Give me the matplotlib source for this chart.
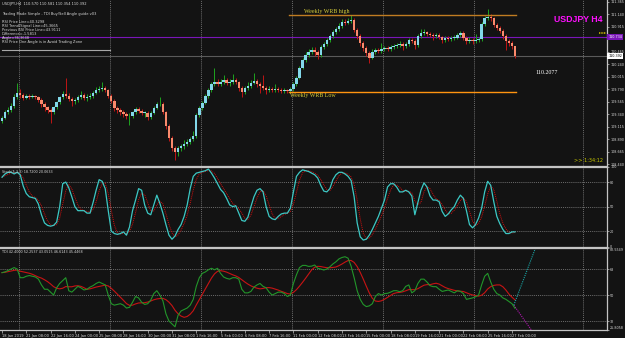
import numpy as np
import pandas as pd
import matplotlib
matplotlib.use("Agg")
import matplotlib.pyplot as plt

# ---- data (USDJPY H4, 18 Jan - 27 Feb 2019) ----
first_open = 109.22
closes = [109.28, 109.38, 109.42, 109.49, 109.65, 109.73, 109.69, 109.64, 109.67, 109.65,
          109.67, 109.65, 109.60, 109.53, 109.47, 109.42, 109.38, 109.47, 109.56, 109.65,
          109.71, 109.67, 109.62, 109.58, 109.60, 109.65, 109.69, 109.64, 109.65, 109.67,
          109.73, 109.78, 109.80, 109.82, 109.78, 109.67, 109.58, 109.46, 109.42, 109.38,
          109.35, 109.31, 109.31, 109.38, 109.44, 109.40, 109.37, 109.37, 109.29, 109.37,
          109.46, 109.53, 109.53, 109.38, 109.13, 108.92, 108.74, 108.66, 108.74, 108.77,
          108.81, 108.84, 108.90, 108.95, 109.33, 109.46, 109.55, 109.67, 109.78, 109.89,
          109.92, 109.89, 109.92, 109.96, 109.91, 109.92, 109.96, 109.92, 109.82, 109.74,
          109.82, 109.85, 109.91, 109.94, 109.89, 109.85, 109.82, 109.78, 109.80, 109.78,
          109.80, 109.78, 109.76, 109.78, 109.76, 109.80, 109.89, 110.00, 110.18, 110.32,
          110.41, 110.46, 110.50, 110.46, 110.41, 110.55, 110.61, 110.68, 110.75, 110.82,
          110.88, 110.93, 111.00, 110.99, 111.02, 111.04, 110.86, 110.75, 110.63, 110.54,
          110.45, 110.36, 110.46, 110.50, 110.48, 110.52, 110.54, 110.52, 110.55, 110.57,
          110.59, 110.61, 110.57, 110.61, 110.68, 110.66, 110.59, 110.75, 110.81, 110.82,
          110.79, 110.77, 110.75, 110.77, 110.73, 110.68, 110.72, 110.70, 110.72, 110.72,
          110.77, 110.81, 110.72, 110.66, 110.68, 110.66, 110.68, 110.70, 110.97, 111.08,
          111.09, 111.08, 110.95, 110.90, 110.84, 110.75, 110.66, 110.63, 110.57, 110.39]
highs = [109.32, 109.42, 109.48, 109.55, 109.70, 109.91, 109.80, 109.72, 109.70, 109.70,
         109.71, 109.69, 109.68, 109.63, 109.56, 109.50, 109.45, 109.50, 109.59, 109.68,
         109.76, 110.00, 109.72, 109.65, 109.64, 109.69, 109.76, 109.72, 109.70, 109.72,
         109.77, 109.83, 109.86, 109.92, 109.85, 109.80, 109.70, 109.61, 109.50, 109.45,
         109.42, 109.38, 109.36, 109.41, 109.48, 109.47, 109.43, 109.41, 109.40, 109.40,
         109.49, 109.57, 109.65, 109.56, 109.40, 109.16, 108.95, 108.77, 108.78, 108.81,
         108.88, 108.90, 108.94, 109.05, 109.36, 109.50, 109.58, 109.71, 109.82, 109.93,
         110.18, 109.98, 109.97, 110.05, 110.00, 109.98, 110.07, 110.00, 109.95, 109.85,
         109.86, 109.92, 109.96, 110.08, 109.97, 109.92, 110.05, 109.85, 109.86, 109.83,
         109.88, 109.84, 109.81, 109.82, 109.80, 109.84, 109.93, 110.04, 110.22, 110.36,
         110.46, 110.52, 110.56, 110.55, 110.50, 110.59, 110.65, 110.72, 110.79, 110.86,
         110.92, 110.98, 111.05, 111.06, 111.07, 111.13, 111.08, 110.89, 110.78, 110.66,
         110.57, 110.48, 110.52, 110.54, 110.53, 110.63, 110.58, 110.57, 110.59, 110.61,
         110.63, 110.66, 110.64, 110.65, 110.72, 110.72, 110.69, 110.79, 110.88, 110.87,
         110.85, 110.82, 110.80, 110.81, 110.80, 110.76, 110.76, 110.75, 110.76, 110.77,
         110.81, 110.85, 110.84, 110.75, 110.73, 110.72, 110.79, 110.74, 111.00, 111.12,
         111.23, 111.14, 111.10, 110.98, 110.93, 110.88, 110.79, 110.70, 110.66, 110.58]
lows = [109.18, 109.25, 109.34, 109.39, 109.46, 109.62, 109.64, 109.60, 109.61, 109.62,
        109.63, 109.61, 109.57, 109.48, 109.40, 109.36, 109.19, 109.34, 109.44, 109.53,
        109.62, 109.63, 109.58, 109.50, 109.53, 109.57, 109.62, 109.60, 109.58, 109.62,
        109.64, 109.70, 109.74, 109.77, 109.74, 109.63, 109.54, 109.41, 109.37, 109.33,
        109.30, 109.25, 109.15, 109.28, 109.35, 109.36, 109.33, 109.30, 109.24, 109.26,
        109.34, 109.43, 109.49, 109.34, 109.08, 108.86, 108.69, 108.52, 108.60, 108.68,
        108.72, 108.77, 108.80, 108.86, 108.92, 109.29, 109.42, 109.52, 109.64, 109.75,
        109.86, 109.85, 109.86, 109.89, 109.87, 109.86, 109.89, 109.88, 109.76, 109.66,
        109.70, 109.78, 109.82, 109.88, 109.84, 109.72, 109.78, 109.70, 109.75, 109.74,
        109.75, 109.74, 109.72, 109.72, 109.72, 109.73, 109.77, 109.86, 109.97, 110.15,
        110.28, 110.38, 110.43, 110.40, 110.34, 110.38, 110.52, 110.58, 110.65, 110.72,
        110.79, 110.85, 110.90, 110.95, 110.96, 110.99, 110.82, 110.70, 110.58, 110.48,
        110.40, 110.27, 110.33, 110.43, 110.44, 110.45, 110.49, 110.48, 110.49, 110.52,
        110.54, 110.56, 110.50, 110.54, 110.58, 110.62, 110.52, 110.56, 110.72, 110.77,
        110.75, 110.73, 110.68, 110.72, 110.69, 110.62, 110.65, 110.66, 110.67, 110.68,
        110.69, 110.74, 110.68, 110.61, 110.62, 110.60, 110.63, 110.64, 110.67, 110.94,
        111.04, 111.03, 110.91, 110.86, 110.80, 110.70, 110.50, 110.58, 110.52, 110.35]

stoch_k = [86, 90, 92, 92, 90, 92, 89, 75, 66, 62, 61, 60, 53, 40, 30, 27, 26, 27, 31, 50,
           78, 80, 73, 62, 50, 45, 45, 45, 42, 42, 55, 70, 83, 81, 72, 45, 20, 17, 16, 17,
           19, 15, 25, 45, 58, 72, 70, 52, 42, 40, 52, 64, 54, 42, 28, 15, 10, 14, 22, 28,
           38, 52, 72, 87, 91, 92, 93, 94, 96, 91, 85, 78, 71, 67, 60, 52, 50, 51, 42, 33,
           32, 37, 50, 62, 70, 72, 68, 50, 38, 35, 34, 38, 41, 42, 42, 48, 68, 87, 92, 95,
           94, 93, 91, 89, 85, 76, 69, 68, 72, 83, 89, 92, 92, 90, 87, 82, 62, 30, 13, 9,
           10, 15, 22, 30, 38, 48, 58, 74, 78, 78, 74, 68, 68, 70, 68, 63, 40, 55, 70, 79,
           74, 63, 58, 58, 56, 44, 38, 41, 46, 50, 58, 64, 60, 45, 28, 24, 28, 36, 48, 68,
           81, 76, 56, 38, 29, 22, 17, 17, 19, 19]

tdi_green = [65.5, 66, 67, 68, 69, 68, 62, 62, 63, 63.5, 63, 62.5, 61, 57, 54, 54, 52, 50, 55, 58,
             60, 62, 53, 52, 54, 56, 55, 53.5, 54, 55.5, 56.5, 58, 59, 58, 57, 50, 44, 43, 43.5, 44,
             43, 41, 41.5, 45, 49, 48, 45, 43.5, 44, 46.5, 51, 53, 50, 46, 37, 32, 30, 28, 36, 39,
             40, 41, 43, 47, 56, 62, 65, 66, 67.5, 68.5, 67.5, 68.5, 65, 62.5, 61.5, 61, 62, 62, 61, 54,
             51.5, 51.5, 52.5, 55.5, 57, 58, 56, 55, 52, 50, 51, 52, 52, 51, 49, 50, 58, 64, 69, 70.5,
             70.5, 69.8, 70, 70.8, 68.5, 68, 67.3, 68, 69.5, 71.5, 73, 75, 76, 76.5, 75.5, 70, 62, 53, 47, 43.5,
             42, 42.5, 44, 49, 51, 50, 51, 51.2, 52, 53, 53, 52.3, 53, 56, 57, 51.5, 53, 58, 61, 61,
             59, 56.5, 55.8, 55.8, 54, 52.5, 53, 53.5, 52.5, 51.5, 53, 52.5, 51, 47, 47.5, 48, 48.8, 50, 57, 63,
             65, 59, 54, 51, 50, 48, 47, 45.5, 44, 40.8]

# TDI projection rays drawn past the last bar
proj_bars = [168.6, 176.0]
proj_up = [43.0, 84.0]
proj_down = [43.0, 21.0]

wrb_high = 111.13
wrb_low = 109.74
wrb_span = [94.5, 169.3]
purple_level = 110.734
side_level = 110.50
bid = 110.392

price_ticks = [111.365, 111.140, 110.915, 110.465, 110.240, 110.015, 109.790,
               109.565, 109.340, 109.115, 108.890, 108.665, 108.440]
date_labels = ["18 Jan 2019", "21 Jan 08:00", "22 Jan 16:00", "24 Jan 00:00", "25 Jan 08:00",
               "28 Jan 16:00", "30 Jan 00:00", "31 Jan 08:00", "1 Feb 16:00", "5 Feb 00:00",
               "6 Feb 08:00", "7 Feb 16:00", "11 Feb 00:00", "12 Feb 08:00", "13 Feb 16:00",
               "15 Feb 00:00", "18 Feb 08:00", "19 Feb 16:00", "21 Feb 00:00", "22 Feb 08:00",
               "25 Feb 16:00", "27 Feb 00:00"]
grid_bars = [5.6, 35.6, 65.5, 95.5, 125.5, 155.5, 191.4]

info_lines = ["Trading Made Simple - TDI Buy/Sell Angle guide v03",
              "RSI Price Line=40.3298",
              "RSI Trend/Signal Line=45.3665",
              "Previous RSI Price Line=43.9111",
              "Difference=-1.5813",
              "Angle=36.3648",
              "RSI Price One Angle is in Avoid Trading Zone"]
info_y = [14, 22, 26, 30, 34, 38, 42]   # pixel rows of the lines above

# ---- styling ----
W, H = 625, 338
BG = "#131313"
FRAME = "#c4c4c4"
TXT = "#d8d8d8"
GRID = "#8c8c8c"
BULL_BODY, BEAR_BODY = "#82d8ea", "#f98a6c"
BULL_WICK, BEAR_WICK = "#1fa31f", "#c01515"

fig = plt.figure(figsize=(W / 100, H / 100), dpi=100, facecolor=BG)


def panel(x0, y0, x1, y1):
    ax = fig.add_axes([x0 / W, 1 - y1 / H, (x1 - x0) / W, (y1 - y0) / H])
    ax.set_facecolor(BG)
    for s in ax.spines.values():
        s.set_color(FRAME)
        s.set_linewidth(0.9)
    ax.spines["left"].set_visible(False)
    ax.set_xlim(-0.66, 199.3)
    ax.yaxis.tick_right()
    ax.tick_params(axis="y", colors=FRAME, labelcolor=TXT, labelsize=2.4,
                   length=1.5, width=0.5, pad=0.8)
    ax.tick_params(axis="x", bottom=False, labelbottom=False)
    for gx in grid_bars:
        ax.axvline(gx, color=GRID, lw=0.5, ls=(0, (1.5, 1.5)), zorder=0.5)
    return ax


n = len(closes)
bars = np.arange(n)
opens = np.array([first_open] + closes[:-1])
closes = np.array(closes)
highs = np.array(highs)
lows = np.array(lows)
up = closes >= opens

# ---- main price panel ----
ax = panel(0, 0, 607, 166)
ax.spines["top"].set_visible(False)
ax.set_ylim(111.40 - 0.018 * 166, 111.40)
ax.vlines(bars[up], lows[up], highs[up], color=BULL_WICK, lw=0.7, zorder=2)
ax.vlines(bars[~up], lows[~up], highs[~up], color=BEAR_WICK, lw=0.7, zorder=2)
body_lo = np.minimum(opens, closes)
body_h = np.maximum(np.abs(closes - opens), 0.006)
ax.bar(bars, body_h, bottom=body_lo, width=0.8, linewidth=0,
       color=np.where(up, BULL_BODY, BEAR_BODY), zorder=3)

ax.plot(wrb_span, [wrb_high, wrb_high], color="#c07c22", lw=1.0, zorder=2)
ax.plot(wrb_span, [wrb_low, wrb_low], color="#ff9410", lw=1.0, zorder=2)
ax.text(wrb_span[0] + 5, wrb_high + 0.02, "Weekly WRB high", color="#d7cf3a",
        fontsize=4.3, family="Liberation Serif", va="bottom")
ax.text(wrb_span[0] + 0.5, wrb_low - 0.02, "Weekly WRB Low", color="#d7cf3a",
        fontsize=4.3, family="Liberation Serif", va="top")

ax.axhline(purple_level, color="#7a16b8", lw=0.8, zorder=1)
ax.axhline(bid, color="#5a5a5a", lw=0.8, zorder=1)
ax.plot([0, 35.6], [side_level, side_level], color="#a8a8a8", lw=0.8, zorder=1)

ax.set_yticks(price_ticks)
ax.set_yticklabels([f"{v:.3f}" for v in price_ticks])
ax.text(1.002, purple_level, f"{purple_level:.3f}", transform=ax.get_yaxis_transform(),
        fontsize=2.4, color="white", va="center", ha="left", zorder=6, clip_on=False,
        bbox=dict(boxstyle="square,pad=0.25", fc="#7a16b8", ec="none"))
ax.text(1.002, bid, f"{bid:.3f}", transform=ax.get_yaxis_transform(),
        fontsize=2.4, color="black", va="center", ha="left", zorder=6, clip_on=False,
        bbox=dict(boxstyle="square,pad=0.25", fc="white", ec="none"))

ax.text(175.6, 110.10, "110.2077", color="white", fontsize=4.3,
        family="Liberation Serif", va="center")
ax.plot([196.5, 199.0], [110.81, 110.81], color="#c8b400", lw=1.2, ls=(0, (0.6, 0.4)))

fig.text(2 / W, 1 - 4 / H, f"USDJPY,H4  {opens[-1]:.3f} {highs[-1] + 0.001:.3f} "
         f"{lows[-1] + 0.004:.3f} {bid:.3f}", color=TXT, fontsize=2.6, va="center")
for line, yy in zip(info_lines, info_y):
    fig.text(2 / W, 1 - yy / H, line, color=TXT, fontsize=2.6, va="center")
fig.text(602 / W, 1 - 20 / H, "USDJPY H4", color="#ff10ff", fontsize=6.3,
         fontweight="bold", family="Liberation Sans", ha="right", va="center")
fig.text(603 / W, 1 - 160 / H, ">> 1:34:12", color="#c8c800", fontsize=3.6,
         ha="right", va="center")

# ---- stochastic panel ----
k = pd.Series(stoch_k, dtype=float)
d = k.rolling(3, min_periods=1).mean()
ax2 = panel(0, 167, 607, 247)
ax2.set_ylim(0.5, 98.5)
for lv in (80, 50, 20):
    ax2.axhline(lv, color=GRID, lw=0.5, ls=(0, (1.5, 1.5)), zorder=0.5)
ax2.plot(bars, d, color="#d01010", lw=0.7, ls=(0, (1, 1)), zorder=2)
ax2.plot(bars, k, color="#3cc8c4", lw=0.9, zorder=3)
ax2.set_yticks([98.5, 80, 50, 20, 0.5])
ax2.set_yticklabels(["100", "80", "50", "20", "0"])
ax2.text(0.003, 0.965, f"Stoch(5,3,3) {k.iloc[-1] - 0.28:.4f} {d.iloc[-1] + 1.73:.4f}",
         transform=ax2.transAxes, color=TXT, fontsize=2.4, va="top")

# ---- TDI panel ----
g = pd.Series(tdi_green, dtype=float)
r = g.rolling(7, min_periods=1).mean()
ax3 = panel(0, 248, 607, 330)
ax3.set_ylim(25.8, 82.55)
for lv in (68, 50, 32):
    ax3.axhline(lv, color=GRID, lw=0.5, ls=(0, (1.5, 1.5)), zorder=0.5)
ax3.plot(bars, r, color="#c81414", lw=0.8, zorder=2)
ax3.plot(bars, g, color="#22962a", lw=0.8, zorder=3)
ax3.plot(proj_bars, proj_up, color="#1aa8a8", lw=0.8, ls=(0, (1, 1)), zorder=2)
ax3.plot(proj_bars, proj_down, color="#b414b4", lw=0.8, ls=(0, (1, 1)), zorder=2)
ax3.set_yticks([82.55, 68, 50, 32, 25.8])
ax3.set_yticklabels(["82.5549", "68", "50", "32", "25.8058"])
tl = ax3.get_yticklabels()
tl[0].set_va("top")
tl[-1].set_va("bottom")
ax3.text(0.003, 0.975, f"TDI {g.iloc[-1] + 1.6:.4f} 52.2537 43.0515 {r.iloc[-1]:.4f} 45.4468",
         transform=ax3.transAxes, color=TXT, fontsize=2.4, va="top")
ax3.set_xticks(np.arange(len(date_labels)) * 8)
ax3.set_xticklabels(date_labels)
ax3.tick_params(axis="x", bottom=True, labelbottom=True, colors=FRAME, labelcolor=TXT,
                labelsize=2.6, length=2, width=0.5, pad=1)
for t in ax3.get_xticklabels():
    t.set_ha("left")

fig.savefig("out.png", dpi=100, facecolor=BG)
